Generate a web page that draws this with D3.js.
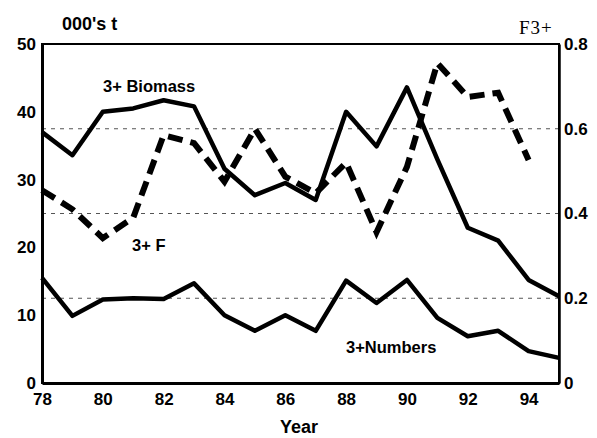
<!DOCTYPE html>
<html>
<head>
<meta charset="utf-8">
<script src="https://cdn.jsdelivr.net/npm/d3@7"></script>
<style>
  body { margin: 0; background: #fff; }
  svg { display: block; }
  text { font-family: "Liberation Sans", Arial, sans-serif; fill: #000; }
</style>
</head>
<body>
<svg></svg>
<script>
// stock series, 1978-1995
const years = d3.range(78, 96);
const biomass = [37, 33.6, 40, 40.5, 41.7, 40.8, 31.6, 27.7, 29.5, 27, 40, 34.9, 43.6, 33, 22.9, 21, 15.2, 12.8];
const numbers = [15.5, 9.9, 12.3, 12.5, 12.4, 14.7, 10, 7.7, 10, 7.7, 15.1, 11.8, 15.2, 9.6, 6.9, 7.7, 4.7, 3.7];
// fishing mortality, ends 1994
const fYears = d3.range(78, 95);
const fValues = [0.455, 0.41, 0.342, 0.39, 0.585, 0.566, 0.475, 0.6, 0.487, 0.448, 0.52, 0.356, 0.51, 0.755, 0.675, 0.685, 0.526];

const leftTicks = [0, 10, 20, 30, 40, 50];
const rightTicks = [0, 0.2, 0.4, 0.6, 0.8];
const xTicks = [78, 80, 82, 84, 86, 88, 90, 92, 94];

const width = 597, height = 438;
const margin = { top: 44, right: 38, bottom: 55, left: 42 };

const svg = d3.select("svg")
    .attr("width", width)
    .attr("height", height);

const x = d3.scaleLinear().domain([78, 95]).range([margin.left, width - margin.right]);
const yL = d3.scaleLinear().domain([0, 50]).range([height - margin.bottom, margin.top]);
const yR = d3.scaleLinear().domain([0, 0.8]).range([height - margin.bottom, margin.top]);

// dotted guide lines at the inner F ticks
svg.append("g")
    .selectAll("line")
    .data(rightTicks.slice(1, -1))
    .enter().append("line")
    .attr("x1", x(78)).attr("x2", x(95))
    .attr("y1", d => yR(d)).attr("y2", d => yR(d))
    .attr("stroke", "#555")
    .attr("stroke-width", 1)
    .attr("stroke-dasharray", "4,5");

// frame
svg.append("rect")
    .attr("x", x(78)).attr("y", yL(50))
    .attr("width", x(95) - x(78)).attr("height", yL(0) - yL(50))
    .attr("fill", "none").attr("stroke", "#000").attr("stroke-width", 2);

const xAxis = d3.axisBottom(x).tickValues(xTicks).tickSize(0).tickPadding(10);
const leftAxis = d3.axisLeft(yL).tickValues(leftTicks).tickSize(0).tickPadding(6);
const rightAxis = d3.axisRight(yR).tickValues(rightTicks).tickSize(0).tickPadding(5)
    .tickFormat(d => d === 0 ? "0" : d3.format(".1f")(d));

function styleAxis(g) {
    g.select(".domain").attr("stroke", "#000").attr("stroke-width", 3);
    g.selectAll("text").style("font-size", "17px").style("font-weight", "bold")
        .style("font-family", "'Liberation Sans', Arial, sans-serif");
}

svg.append("g").attr("transform", `translate(0,${yL(0)})`).call(xAxis).call(styleAxis);
svg.append("g").attr("transform", `translate(${x(78)},0)`).call(leftAxis).call(styleAxis);
svg.append("g").attr("transform", `translate(${x(95)},0)`).call(rightAxis).call(styleAxis)
    .select(".domain").attr("stroke-width", 2.5);

// series lines
const lineL = d3.line().x((d, i) => x(years[i])).y(d => yL(d));
const lineF = d3.line().x((d, i) => x(fYears[i])).y(d => yR(d));

svg.append("path").datum(biomass)
    .attr("d", lineL).attr("fill", "none").attr("stroke", "#000")
    .attr("stroke-width", 4.5).attr("stroke-linejoin", "round");

svg.append("path").datum(numbers)
    .attr("d", lineL).attr("fill", "none").attr("stroke", "#000")
    .attr("stroke-width", 4.5).attr("stroke-linejoin", "round");

svg.append("path").datum(fValues)
    .attr("d", lineF).attr("fill", "none").attr("stroke", "#000")
    .attr("stroke-width", 6).attr("stroke-dasharray", "15,8");

// labels
svg.append("text").attr("x", 62).attr("y", 30)
    .style("font-size", "18px").style("font-weight", "bold").text("000's t");
svg.append("text").attr("x", 519).attr("y", 34)
    .style("font-family", "'Liberation Serif', 'Times New Roman', serif")
    .style("font-size", "19px").style("letter-spacing", "1px").text("F3+");
svg.append("text").attr("x", 103).attr("y", 92)
    .style("font-size", "16.5px").style("font-weight", "bold").text("3+ Biomass");
svg.append("text").attr("x", 132).attr("y", 251)
    .style("font-size", "16.5px").style("font-weight", "bold").text("3+ F");
svg.append("text").attr("x", 346).attr("y", 353)
    .style("font-size", "16.5px").style("font-weight", "bold").text("3+Numbers");
svg.append("text").attr("x", 299).attr("y", 433)
    .attr("text-anchor", "middle")
    .style("font-size", "18px").style("font-weight", "bold").text("Year");
</script>
</body>
</html>
